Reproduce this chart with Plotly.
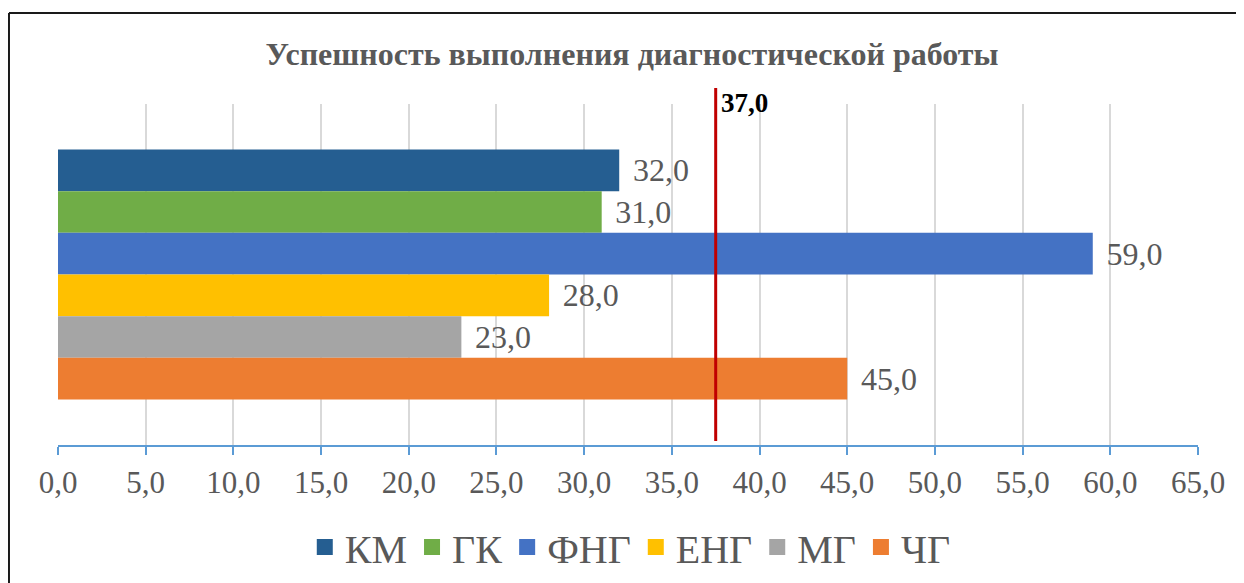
import plotly.graph_objects as go

# Данные диаграммы
groups = ["КМ", "ГК", "ФНГ", "ЕНГ", "МГ", "ЧГ"]
scores = [32.0, 31.0, 59.0, 28.0, 23.0, 45.0]
colors = ["#255E91", "#70AD47", "#4472C4", "#FFC000", "#A5A5A5", "#ED7D31"]
category = [""]

threshold_x = 37.5
threshold_label = "37,0"

x_ticks = [0, 5, 10, 15, 20, 25, 30, 35, 40, 45, 50, 55, 60, 65]

FONT = "Liberation Serif"
GREY = "#595959"

fig = go.Figure()

for name, val, col in zip(groups, scores, colors):
    fig.add_trace(go.Bar(
        y=category, x=[val], name=name, orientation="h",
        legendgroup=name, showlegend=False,
        marker=dict(color=col, line=dict(width=0)),
        texttemplate="\u00a0\u200a%{x:.1f}", textposition="outside",
        textfont=dict(size=32, color=GREY, family=FONT),
        cliponaxis=False,
    ))

# квадратики для легенды
for name, col in zip(groups, colors):
    fig.add_trace(go.Scatter(
        x=[None], y=[None], mode="markers", name=name, legendgroup=name,
        marker=dict(symbol="square", size=19, color=col),
    ))

# Вертикальная линия (порог)
fig.add_shape(type="line", xref="x", yref="paper",
              x0=threshold_x, x1=threshold_x, y0=0.012, y1=1.047,
              line=dict(color="#C00000", width=3))
fig.add_annotation(xref="x", yref="paper", x=threshold_x, y=1.003,
                   text="<b>" + threshold_label + "</b>", showarrow=False,
                   xanchor="left", yanchor="middle", xshift=3,
                   font=dict(size=27, color="#000000", family=FONT))

# Рамка (видны только левая и верхняя стороны)
fig.add_shape(type="line", xref="paper", yref="paper",
              x0=-0.043, x1=1.1, y0=1.267, y1=1.267,
              line=dict(color="#1A1A1A", width=2))
fig.add_shape(type="line", xref="paper", yref="paper",
              x0=-0.043, x1=-0.043, y0=-0.5, y1=1.267,
              line=dict(color="#1A1A1A", width=2))

fig.update_layout(
    width=1236, height=575,
    margin=dict(l=50, r=46, t=96, b=138, autoexpand=False),
    paper_bgcolor="white", plot_bgcolor="white",
    separators=", ",
    barmode="group", bargap=0.267, bargroupgap=0,
    font=dict(family=FONT, color=GREY),
    title=dict(text="<b>Успешность выполнения диагностической работы</b>",
               x=0.5035, xref="paper", y=1 - 46 / 575, yanchor="middle",
               font=dict(size=32, color=GREY, family=FONT)),
    showlegend=True,
    legend=dict(orientation="h", x=0.502, xanchor="center", y=-0.299, yanchor="middle",
                font=dict(size=40, color=GREY), itemwidth=30,
                traceorder="normal"),
    xaxis=dict(range=[0, 65], tickvals=x_ticks, tickformat=".1f",
               showgrid=True, gridcolor="#D9D9D9", gridwidth=1.5,
               zeroline=False, showline=True, linecolor="#5B9BD5", linewidth=1.5,
               ticks="outside", ticklen=8, tickcolor="#5B9BD5", tickwidth=1.5,
               ticklabelstandoff=1,
               tickfont=dict(size=31, color=GREY)),
    yaxis=dict(autorange="reversed", showticklabels=False, showgrid=False,
               zeroline=False, showline=False, fixedrange=True),
)

fig.write_html("out.html")
